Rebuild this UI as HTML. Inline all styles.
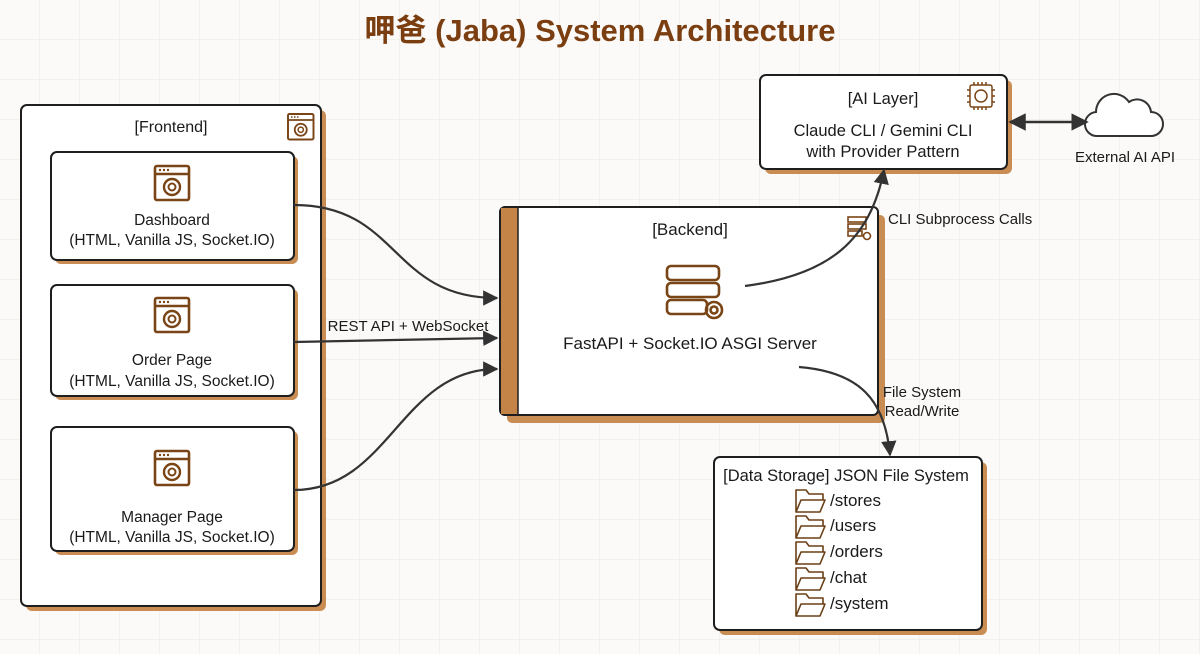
<!DOCTYPE html>
<html><head><meta charset="utf-8"><style>
html,body{margin:0;padding:0;width:1200px;height:654px;overflow:hidden;background:#fbfaf8}
svg{display:block}
text{font-family:"Liberation Sans","Noto Sans CJK SC",sans-serif;fill:#1a1a1a}
</style></head><body>
<svg width="1200" height="654" viewBox="0 0 1200 654" xmlns="http://www.w3.org/2000/svg">
<defs>
<pattern id="g" width="40" height="40" patternUnits="userSpaceOnUse"><path d="M40 0V40M0 40H40" stroke="#ebe8e4" stroke-width="1" fill="none"/></pattern>
<marker id="a" viewBox="0 0 10 10" refX="9" refY="5" markerWidth="7" markerHeight="7" orient="auto-start-reverse"><path d="M0 0L10 5L0 10z" fill="#333"/></marker>
<g id="br"><rect x="0" y="0" width="34" height="34" rx="2" fill="none" stroke="#7a4516" stroke-width="2.6"/><line x1="0" y1="8" x2="34" y2="8" stroke="#7a4516" stroke-width="2.4"/><circle cx="5" cy="4" r="1.2" fill="#7a4516"/><circle cx="9" cy="4" r="1.2" fill="#7a4516"/><circle cx="13" cy="4" r="1.2" fill="#7a4516"/><circle cx="17" cy="21" r="8" fill="none" stroke="#7a4516" stroke-width="2.4"/><circle cx="17" cy="21" r="3.5" fill="none" stroke="#7a4516" stroke-width="2"/></g>
<g id="fd"><path d="M0 2h10l3 4h14v6H5L0 24z M0 24l5-12h24l-5 12z" fill="none" stroke="#6b3f16" stroke-width="1.6" stroke-linejoin="round"/></g>
</defs>
<rect width="1200" height="654" fill="url(#g)"/>
<text x="600" y="41" text-anchor="middle" font-size="31" font-weight="bold" style="fill:#7a3e10">呷爸 (Jaba) System Architecture</text>

<!-- Frontend -->
<rect x="26" y="110" width="300" height="501" rx="6" fill="#c98c52"/>
<rect x="21" y="105" width="300" height="501" rx="6" fill="#fff" stroke="#1e1e1e" stroke-width="2"/>
<text x="171" y="132" text-anchor="middle" font-size="16">[Frontend]</text>
<g transform="translate(288,114) scale(0.75)"><use href="#br"/></g>

<g>
<rect x="55" y="156" width="243" height="108" rx="6" fill="#c98c52"/>
<rect x="51" y="152" width="243" height="108" rx="6" fill="#fff" stroke="#1e1e1e" stroke-width="2"/>
<use href="#br" x="155" y="166"/>
<text x="172" y="225" text-anchor="middle" font-size="15.5">Dashboard</text>
<text x="172" y="245" text-anchor="middle" font-size="15.5">(HTML, Vanilla JS, Socket.IO)</text>
</g>
<g>
<rect x="55" y="289" width="243" height="111" rx="6" fill="#c98c52"/>
<rect x="51" y="285" width="243" height="111" rx="6" fill="#fff" stroke="#1e1e1e" stroke-width="2"/>
<use href="#br" x="155" y="298"/>
<text x="172" y="365" text-anchor="middle" font-size="15.5">Order Page</text>
<text x="172" y="386" text-anchor="middle" font-size="15.5">(HTML, Vanilla JS, Socket.IO)</text>
</g>
<g>
<rect x="55" y="431" width="243" height="124" rx="6" fill="#c98c52"/>
<rect x="51" y="427" width="243" height="124" rx="6" fill="#fff" stroke="#1e1e1e" stroke-width="2"/>
<use href="#br" x="155" y="451"/>
<text x="172" y="522" text-anchor="middle" font-size="15.5">Manager Page</text>
<text x="172" y="542" text-anchor="middle" font-size="15.5">(HTML, Vanilla JS, Socket.IO)</text>
</g>

<!-- Backend -->
<rect x="507" y="215" width="378" height="208" rx="5" fill="#c98c52"/>
<rect x="500" y="207" width="378" height="208" rx="5" fill="#fff" stroke="#1e1e1e" stroke-width="2"/>
<rect x="501" y="208" width="17" height="206" fill="#c48448"/>
<line x1="518" y1="208" x2="518" y2="414" stroke="#1e1e1e" stroke-width="1.5"/>
<text x="690" y="235" text-anchor="middle" font-size="17">[Backend]</text>
<g fill="none" stroke="#7a4516" stroke-width="2.6">
<rect x="667" y="266" width="52" height="14" rx="4"/><rect x="667" y="283" width="52" height="14" rx="4"/><rect x="667" y="300" width="40" height="14" rx="4"/>
<circle cx="714" cy="310" r="8"/><circle cx="714" cy="310" r="3.5"/>
</g>
<g fill="none" stroke="#7a4516" stroke-width="1.6"><rect x="848" y="217" width="18" height="5"/><rect x="848" y="224" width="18" height="5"/><rect x="848" y="231" width="14" height="5"/><circle cx="867" cy="236" r="3.5"/></g>
<text x="690" y="349" text-anchor="middle" font-size="17">FastAPI + Socket.IO ASGI Server</text>

<!-- AI Layer -->
<rect x="765" y="80" width="247" height="94" rx="6" fill="#c98c52"/>
<rect x="760" y="75" width="247" height="94" rx="6" fill="#fff" stroke="#1e1e1e" stroke-width="2"/>
<text x="883" y="104" text-anchor="middle" font-size="16.5">[AI Layer]</text>
<text x="883" y="136" text-anchor="middle" font-size="16.5">Claude CLI / Gemini CLI</text>
<text x="883" y="157" text-anchor="middle" font-size="16.5">with Provider Pattern</text>
<g fill="none" stroke="#7a4516" stroke-width="1.5"><rect x="970" y="85" width="22" height="22" rx="2"/><circle cx="981" cy="96" r="6"/><path d="M974 82v3M978 82v3M982 82v3M986 82v3M974 107v3M978 107v3M982 107v3M986 107v3M967 90h3M967 96h3M967 102h3M992 90h3M992 96h3M992 102h3"/></g>

<!-- Cloud -->
<path d="M1098 136 a12 12 0 0 1 -2 -24 a18 18 0 0 1 33 -10 a14 14 0 0 1 22 10 a12 12 0 0 1 0 24z" fill="#fff" stroke="#333" stroke-width="2"/>
<text x="1125" y="162" text-anchor="middle" font-size="15">External AI API</text>
<line x1="1010" y1="122" x2="1087" y2="122" stroke="#333" stroke-width="2.5" marker-start="url(#a)" marker-end="url(#a)"/>

<!-- Data storage -->
<rect x="719" y="462" width="268" height="173" rx="6" fill="#c98c52"/>
<rect x="714" y="457" width="268" height="173" rx="6" fill="#fff" stroke="#1e1e1e" stroke-width="2"/>
<text x="846" y="481" text-anchor="middle" font-size="16.5">[Data Storage] JSON File System</text>
<use href="#fd" x="796" y="488"/><text x="830" y="506" font-size="17">/stores</text>
<use href="#fd" x="796" y="514"/><text x="830" y="531" font-size="17">/users</text>
<use href="#fd" x="796" y="540"/><text x="830" y="557" font-size="17">/orders</text>
<use href="#fd" x="796" y="566"/><text x="830" y="583" font-size="17">/chat</text>
<use href="#fd" x="796" y="592"/><text x="830" y="609" font-size="17">/system</text>

<!-- connectors -->
<g fill="none" stroke="#333" stroke-width="2.2" marker-end="url(#a)">
<path d="M294 205 C400 205 390 298 497 298"/>
<path d="M294 342 L497 338"/>
<path d="M294 490 C390 490 400 369 497 369"/>
<path d="M745 286 C830 275 870 240 884 170"/>
<path d="M799 367 C860 372 885 400 890 455"/>
</g>
<text x="408" y="331" text-anchor="middle" font-size="15">REST API + WebSocket</text>
<text x="888" y="224" font-size="15">CLI Subprocess Calls</text>
<text x="922" y="397" text-anchor="middle" font-size="15">File System</text>
<text x="922" y="416" text-anchor="middle" font-size="15">Read/Write</text>
</svg>
</body></html>
